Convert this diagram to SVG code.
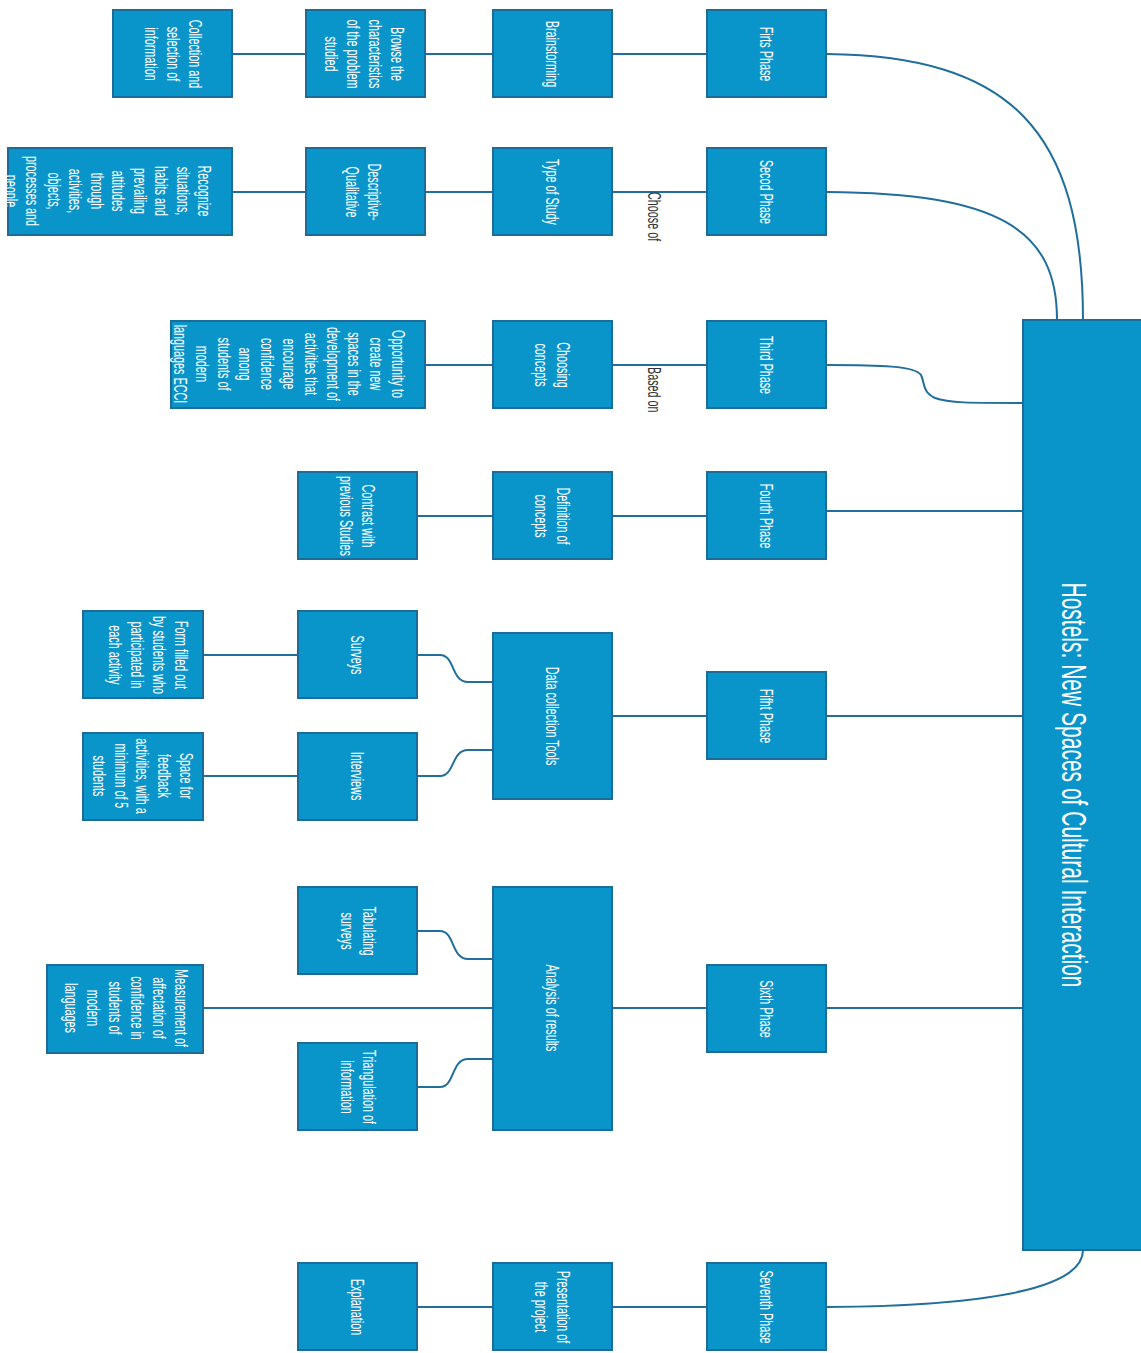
<svg xmlns="http://www.w3.org/2000/svg" width="1141" height="1353" viewBox="0 0 1141 1353">
<style>
.box{fill:#0A95CA;stroke:#1B6C99;stroke-width:2}
.t{font-family:"Liberation Sans",Arial,sans-serif;font-size:18px;fill:#ffffff;text-anchor:middle}
.title{font-family:"Liberation Sans",Arial,sans-serif;font-size:35px;fill:#ffffff;text-anchor:middle}
.lbl{font-family:"Liberation Sans",Arial,sans-serif;font-size:18px;fill:#333333;text-anchor:start}
.c{fill:none;stroke:#1F6E9C;stroke-width:2}
</style>
<rect width="1141" height="1353" fill="#ffffff"/>
<g id="connectors">
<path class="c" d="M232,54 H306 M425,54 H493 M612,54 H707"/>
<path class="c" d="M232,192 H306 M425,192 H493 M612,192 H707"/>
<path class="c" d="M425,365 H493 M612,365 H707"/>
<path class="c" d="M417,516 H493 M612,516 H707 M826,511 H1023"/>
<path class="c" d="M203,655 H298 M203,776 H298 M612,716 H707 M826,716 H1023"/>
<path class="c" d="M417,655 L440,655 C455,655 451,682 468,682 L493,682"/>
<path class="c" d="M417,776 L440,776 C455,776 451,750 468,750 L493,750"/>
<path class="c" d="M203,1008 H493 M612,1008 H707 M826,1008 H1023"/>
<path class="c" d="M417,931 L440,931 C455,931 451,959 468,959 L493,959"/>
<path class="c" d="M417,1087 L440,1087 C455,1087 451,1059 468,1059 L493,1059"/>
<path class="c" d="M417,1307 H493 M612,1307 H707"/>
<path class="c" d="M827,54 C1010,56 1083,130 1083,320"/>
<path class="c" d="M827,192 C1000,193 1057,230 1057,320"/>
<path class="c" d="M827,365 C880,365 915,366 921,375 C925,383 922,392 935,398 C948,403 970,403 1023,403"/>
<path class="c" d="M827,1307 C980,1306 1083,1290 1083,1250"/>
<text class="lbl" transform="translate(648,192) rotate(90) scale(0.6,1)">Choose of</text>
<text class="lbl" transform="translate(648,367) rotate(90) scale(0.6,1)">Based on</text>
</g>
<g id="main"><rect class="box" x="1023" y="320" width="125" height="930"/><text class="title" transform="translate(1062,785) rotate(90) scale(0.6,1)">Hostels: New Spaces of Cultural Interaction</text></g>
<g id="first"><rect class="box" x="707" y="10" width="119" height="87"/><text class="t" transform="translate(760,54) rotate(90) scale(0.6,1)">Firts Phase</text></g>
<g id="second"><rect class="box" x="707" y="148" width="119" height="87"/><text class="t" transform="translate(760,192) rotate(90) scale(0.6,1)">Secod Phase</text></g>
<g id="third"><rect class="box" x="707" y="321" width="119" height="87"/><text class="t" transform="translate(760,365) rotate(90) scale(0.6,1)">Third Phase</text></g>
<g id="fourth"><rect class="box" x="707" y="472" width="119" height="87"/><text class="t" transform="translate(760,516) rotate(90) scale(0.6,1)">Fourth Phase</text></g>
<g id="fifth"><rect class="box" x="707" y="672" width="119" height="87"/><text class="t" transform="translate(760,716) rotate(90) scale(0.6,1)">Fifht Phase</text></g>
<g id="sixth"><rect class="box" x="707" y="965" width="119" height="87"/><text class="t" transform="translate(760,1009) rotate(90) scale(0.6,1)">Sixth Phase</text></g>
<g id="seventh"><rect class="box" x="707" y="1263" width="119" height="87"/><text class="t" transform="translate(760,1307) rotate(90) scale(0.6,1)">Seventh Phase</text></g>
<g id="brainstorming"><rect class="box" x="493" y="10" width="119" height="87"/><text class="t" transform="translate(546,54) rotate(90) scale(0.6,1)">Brainstorming</text></g>
<g id="type-study"><rect class="box" x="493" y="148" width="119" height="87"/><text class="t" transform="translate(546,192) rotate(90) scale(0.6,1)">Type of Study</text></g>
<g id="choosing"><rect class="box" x="493" y="321" width="119" height="87"/><text class="t" transform="translate(557,365) rotate(90) scale(0.6,1)"><tspan x="0">Choosing</tspan><tspan x="0" dy="22">concepts</tspan></text></g>
<g id="definition"><rect class="box" x="493" y="472" width="119" height="87"/><text class="t" transform="translate(557,516) rotate(90) scale(0.6,1)"><tspan x="0">Definition of</tspan><tspan x="0" dy="22">concepts</tspan></text></g>
<g id="data-collection"><rect class="box" x="493" y="633" width="119" height="166"/><text class="t" transform="translate(546,716) rotate(90) scale(0.6,1)">Data collection Tools</text></g>
<g id="analysis"><rect class="box" x="493" y="887" width="119" height="243"/><text class="t" transform="translate(546,1008) rotate(90) scale(0.6,1)">Analysis of results</text></g>
<g id="presentation"><rect class="box" x="493" y="1263" width="119" height="87"/><text class="t" transform="translate(557,1307) rotate(90) scale(0.6,1)"><tspan x="0">Presentation of</tspan><tspan x="0" dy="22">the project</tspan></text></g>
<g id="browse"><rect class="box" x="306" y="10" width="119" height="87"/><text class="t" transform="translate(391,54) rotate(90) scale(0.6,1)"><tspan x="0">Browse the</tspan><tspan x="0" dy="22">characteristics</tspan><tspan x="0" dy="22">of the problem</tspan><tspan x="0" dy="22">studied</tspan></text></g>
<g id="descriptive"><rect class="box" x="306" y="148" width="119" height="87"/><text class="t" transform="translate(368,192) rotate(90) scale(0.6,1)"><tspan x="0">Descriptive-</tspan><tspan x="0" dy="22">Qualitative</tspan></text></g>
<g id="opportunity"><rect class="box" x="171" y="321" width="254" height="87"/><text class="t" transform="translate(392,364) rotate(90) scale(0.6,1)"><tspan x="0">Opportunity to</tspan><tspan x="0" dy="21.8">create new</tspan><tspan x="0" dy="21.8">spaces in the</tspan><tspan x="0" dy="21.8">development of</tspan><tspan x="0" dy="21.8">activities that</tspan><tspan x="0" dy="21.8">encourage</tspan><tspan x="0" dy="21.8">confidence</tspan><tspan x="0" dy="21.8">among</tspan><tspan x="0" dy="21.8">students of</tspan><tspan x="0" dy="21.8">modern</tspan><tspan x="0" dy="21.8">languages ECCI</tspan></text></g>
<g id="contrast"><rect class="box" x="298" y="472" width="119" height="87"/><text class="t" transform="translate(362,516) rotate(90) scale(0.6,1)"><tspan x="0">Contrast with</tspan><tspan x="0" dy="22">previous Studies</tspan></text></g>
<g id="surveys"><rect class="box" x="298" y="611" width="119" height="87"/><text class="t" transform="translate(351,655) rotate(90) scale(0.6,1)">Surveys</text></g>
<g id="interviews"><rect class="box" x="298" y="733" width="119" height="87"/><text class="t" transform="translate(351,776) rotate(90) scale(0.6,1)">Interviews</text></g>
<g id="tabulating"><rect class="box" x="298" y="887" width="119" height="87"/><text class="t" transform="translate(363,931) rotate(90) scale(0.6,1)"><tspan x="0">Tabulating</tspan><tspan x="0" dy="22">surveys</tspan></text></g>
<g id="triangulation"><rect class="box" x="298" y="1043" width="119" height="87"/><text class="t" transform="translate(363,1087) rotate(90) scale(0.6,1)"><tspan x="0">Triangulation of</tspan><tspan x="0" dy="22">information</tspan></text></g>
<g id="explanation"><rect class="box" x="298" y="1263" width="119" height="87"/><text class="t" transform="translate(351,1307) rotate(90) scale(0.6,1)">Explanation</text></g>
<g id="collection"><rect class="box" x="113" y="10" width="119" height="87"/><text class="t" transform="translate(189,54) rotate(90) scale(0.6,1)"><tspan x="0">Collection and</tspan><tspan x="0" dy="22">selection of</tspan><tspan x="0" dy="22">information</tspan></text></g>
<g id="recognize"><rect class="box" x="8" y="148" width="224" height="87"/><text class="t" transform="translate(198,191) rotate(90) scale(0.6,1)"><tspan x="0">Recognize</tspan><tspan x="0" dy="21.5">situations,</tspan><tspan x="0" dy="21.5">habits and</tspan><tspan x="0" dy="21.5">prevailing</tspan><tspan x="0" dy="21.5">attitudes</tspan><tspan x="0" dy="21.5">through</tspan><tspan x="0" dy="21.5">activities,</tspan><tspan x="0" dy="21.5">objects,</tspan><tspan x="0" dy="21.5">processes and</tspan><tspan x="0" dy="21.5">people</tspan></text></g>
<g id="form"><rect class="box" x="83" y="611" width="120" height="87"/><text class="t" transform="translate(175,655) rotate(90) scale(0.6,1)"><tspan x="0">Form filled out</tspan><tspan x="0" dy="22">by students who</tspan><tspan x="0" dy="22">participated in</tspan><tspan x="0" dy="22">each activity</tspan></text></g>
<g id="space"><rect class="box" x="83" y="733" width="120" height="87"/><text class="t" transform="translate(180,776) rotate(90) scale(0.6,1)"><tspan x="0">Space for</tspan><tspan x="0" dy="21.8">feedback</tspan><tspan x="0" dy="21.8">activities, with a</tspan><tspan x="0" dy="21.8">minimum of 5</tspan><tspan x="0" dy="21.8">students</tspan></text></g>
<g id="measurement"><rect class="box" x="47" y="965" width="156" height="88"/><text class="t" transform="translate(175,1008) rotate(90) scale(0.6,1)"><tspan x="0">Measurement of</tspan><tspan x="0" dy="22">affectation of</tspan><tspan x="0" dy="22">confidence in</tspan><tspan x="0" dy="22">students of</tspan><tspan x="0" dy="22">modern</tspan><tspan x="0" dy="22">languages</tspan></text></g>
</svg>
